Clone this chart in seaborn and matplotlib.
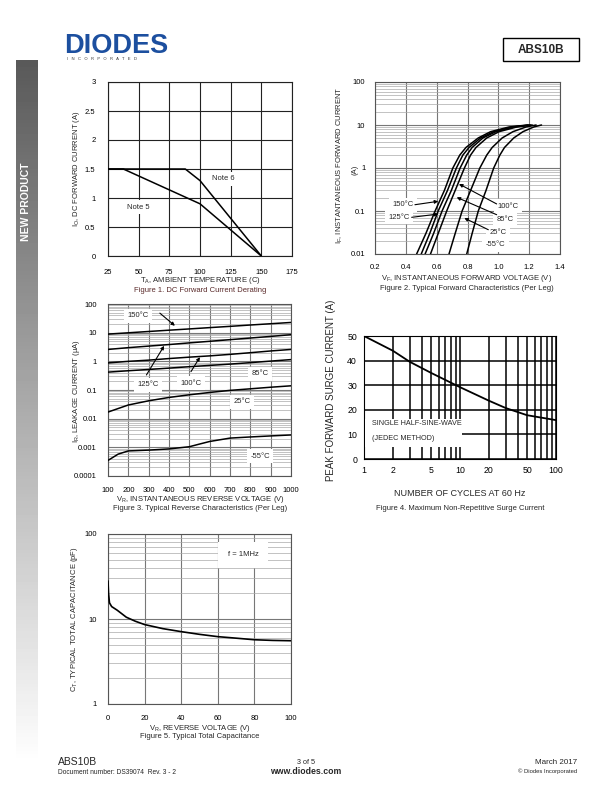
import numpy as np
import pandas as pd
import matplotlib
matplotlib.use("Agg")
import matplotlib.pyplot as plt
import matplotlib.ticker as mticker
from matplotlib.patches import Rectangle
import seaborn as sns

# Figure 1 : DC forward current derating
temp_note6 = [25, 88, 100, 150]
curr_note6 = [1.5, 1.5, 1.3, 0.0]
temp_note5 = [25, 37.5, 100, 150]
curr_note5 = [1.5, 1.5, 0.9, 0.0]

# Figure 2 : typical forward characteristics (V for each current)
if_points = [0.01, 0.03, 0.1, 0.3, 1, 2, 3, 5, 7, 9, 10]
vf_150 = [0.47, 0.53, 0.59, 0.65, 0.705, 0.75, 0.79, 0.87, 0.95, 1.07, 1.19]
vf_125 = [0.50, 0.555, 0.61, 0.67, 0.728, 0.77, 0.81, 0.885, 0.97, 1.09, 1.20]
vf_100 = [0.525, 0.58, 0.635, 0.695, 0.752, 0.795, 0.83, 0.90, 0.985, 1.10, 1.21]
vf_85 = [0.56, 0.61, 0.665, 0.72, 0.78, 0.82, 0.855, 0.925, 1.005, 1.12, 1.22]
vf_25 = [0.68, 0.72, 0.765, 0.82, 0.88, 0.925, 0.96, 1.025, 1.095, 1.18, 1.245]
vf_m55 = [0.795, 0.83, 0.87, 0.92, 0.97, 1.01, 1.04, 1.10, 1.16, 1.23, 1.28]

# Figure 3 : typical reverse characteristics
vr_points = [100, 200, 300, 400, 500, 600, 700, 800, 900, 1000]
ir_150 = [8.9, 9.9, 11.0, 12.2, 13.5, 15.0, 16.6, 18.5, 20.5, 22.7]
ir_125 = [2.6, 3.0, 3.4, 3.85, 4.4, 5.0, 5.7, 6.5, 7.4, 8.5]
ir_100 = [0.88, 1.0, 1.1, 1.25, 1.4, 1.55, 1.75, 2.0, 2.3, 2.6]
ir_85 = [0.42, 0.47, 0.52, 0.58, 0.65, 0.72, 0.8, 0.9, 1.02, 1.15]
ir_25 = [0.017, 0.03, 0.042, 0.055, 0.068, 0.082, 0.097, 0.11, 0.125, 0.14]
vr_m55 = [100, 150, 200, 300, 400, 500, 550, 600, 700, 800, 900, 1000]
ir_m55 = [0.00035, 0.00058, 0.00075, 0.0008, 0.00088, 0.00105, 0.0013, 0.0016,
          0.0021, 0.0023, 0.0025, 0.0027]

# Figure 4 : surge current
cycles = [1, 2, 3, 5, 10, 20, 30, 50, 100]
surge = [50, 44, 39.5, 35, 29.2, 23.7, 20.7, 17.8, 15.8]

# Figure 5 : total capacitance
vr_cap = [0, 0.3, 0.8, 2, 5, 10, 15, 20, 30, 40, 50, 60, 70, 80, 90, 100]
cap = [28, 20, 15.5, 14, 12.7, 10.5, 9.4, 8.6, 7.7, 7.1, 6.6, 6.2, 5.95, 5.7, 5.6, 5.55]

sns.set_theme(style="white")
plt.rcParams['font.family'] = ['Liberation Sans', 'DejaVu Sans']
plt.rcParams['mathtext.default'] = 'regular'

W, H = 612, 792
fig = plt.figure(figsize=(W / 100, H / 100), dpi=100)
FS = 5.5


def px_axes(x0, y0, x1, y1):
    return fig.add_axes([x0 / W, 1 - y1 / H, (x1 - x0) / W, (y1 - y0) / H])


def ftext(x, y, s, **kw):
    kw.setdefault('fontsize', FS)
    kw.setdefault('ha', 'center')
    kw.setdefault('va', 'center')
    fig.text(x / W, 1 - y / H, s, **kw)


def style_axes(ax, edge='#333333'):
    for sp in ax.spines.values():
        sp.set_color(edge)
        sp.set_linewidth(0.8)
    ax.tick_params(axis='both', which='both', length=0, labelsize=FS, pad=4, colors='black')
    ax.set_xlabel('')
    ax.set_ylabel('')


def box_label(ax, x, y, s, fs=FS, ha='center'):
    ax.text(x, y, s, fontsize=fs, ha=ha, va='center', zorder=4,
            bbox=dict(facecolor='white', edgecolor='none', pad=2.5))


def arrow(ax, tail, tip):
    ax.annotate('', xy=tip, xytext=tail, zorder=5,
                arrowprops=dict(arrowstyle='-|>', color='black', lw=0.8,
                                mutation_scale=5, shrinkA=0, shrinkB=0))


# ---------------- header / footer / sidebar ----------------
ftext(64, 46, 'DIODES', fontsize=19.5, fontweight='bold', color='#1c4f9f', ha='left')
ftext(67, 59.5, 'I   N   C   O   R   P   O   R   A   T   E   D', fontsize=3.0,
      color='#333333', ha='left')
fig.patches.append(Rectangle((503 / W, 1 - 61 / H), 76 / W, 23 / H, transform=fig.transFigure,
                             facecolor='white', edgecolor='black', lw=1.0))
ftext(541, 50, 'ABS10B', fontsize=8.5, fontweight='bold')

side = fig.add_axes([16 / W, 1 - 765 / H, 21 / W, 705 / H])
side.imshow(np.linspace(0.35, 1.0, 200).reshape(-1, 1), cmap='gray', vmin=0, vmax=1,
            aspect='auto', extent=[0, 1, 0, 1])
side.axis('off')
ftext(26.5, 202, 'NEW PRODUCT', fontsize=7.5, fontweight='bold', color='white', rotation=90)

ftext(58, 762, 'ABS10B', fontsize=7.5, ha='left')
ftext(58, 773, 'Document number: DS39074  Rev. 3 - 2', fontsize=4.8, ha='left')
ftext(306, 762, '3 of 5', fontsize=5.2)
ftext(306, 772, 'www.diodes.com', fontsize=6.3, fontweight='bold')
ftext(577, 762, 'March 2017', fontsize=5.8, ha='right')
ftext(577, 771, '\u00a9 Diodes Incorporated', fontsize=4.2, ha='right')

# ---------------- Figure 1 ----------------
ax1 = px_axes(108, 82, 292, 256)
df1a = pd.DataFrame({'T': temp_note6, 'I': curr_note6})
df1b = pd.DataFrame({'T': temp_note5, 'I': curr_note5})
sns.lineplot(data=df1a, x='T', y='I', ax=ax1, color='black', lw=1.1, estimator=None, zorder=3)
sns.lineplot(data=df1b, x='T', y='I', ax=ax1, color='black', lw=1.1, estimator=None, zorder=3)
ax1.set_xlim(25, 175)
ax1.set_ylim(0, 3)
ax1.set_xticks(range(25, 176, 25))
ax1.set_yticks([0, 0.5, 1, 1.5, 2, 2.5, 3])
ax1.set_yticklabels(['0', '0.5', '1', '1.5', '2', '2.5', '3'])
ax1.grid(True, color='#222222', lw=0.8)
style_axes(ax1, '#222222')
ax1.tick_params(pad=9)
box_label(ax1, 119, 1.33, 'Note 6')
box_label(ax1, 50, 0.84, 'Note 5')
ftext(77, 169, 'I$_O$, DC FORWARD CURRENT (A)', rotation=90)
ftext(200, 281, 'T$_A$, AMBIENT TEMPERATURE (C)')
ftext(200, 291, 'Figure 1. DC Forward Current Derating', color='#5a2a2a')

# ---------------- Figure 2 ----------------
ax2 = px_axes(375, 82, 560, 254)
for vf in [vf_150, vf_125, vf_100, vf_85, vf_25, vf_m55]:
    d = pd.DataFrame({'V': vf, 'I': if_points})
    sns.lineplot(data=d, x='V', y='I', ax=ax2, color='black', lw=1.1,
                 estimator=None, sort=False, zorder=3)
ax2.set_yscale('log')
ax2.set_xlim(0.2, 1.4)
ax2.set_ylim(0.01, 100)
ax2.set_xticks([0.2, 0.4, 0.6, 0.8, 1.0, 1.2, 1.4])
ax2.set_xticklabels(['0.2', '0.4', '0.6', '0.8', '1.0', '1.2', '1.4'])
ax2.set_yticks([0.01, 0.1, 1, 10, 100])
ax2.set_yticklabels(['0.01', '0.1', '1', '10', '100'])
ax2.yaxis.set_minor_locator(mticker.LogLocator(base=10, subs=range(2, 10)))
ax2.yaxis.set_minor_formatter(mticker.NullFormatter())
ax2.grid(True, which='major', color='#777777', lw=0.8)
ax2.grid(True, which='minor', axis='y', color='#aaaaaa', lw=0.5)
style_axes(ax2, '#555555')
ax2.tick_params(pad=7)
box_label(ax2, 0.38, 0.14, '150\u00b0C')
box_label(ax2, 0.355, 0.071, '125\u00b0C')
box_label(ax2, 1.065, 0.128, '100\u00b0C')
box_label(ax2, 1.045, 0.063, '85\u00b0C')
box_label(ax2, 1.0, 0.031, '25\u00b0C')
box_label(ax2, 0.98, 0.0164, '-55\u00b0C')
arrow(ax2, (0.459, 0.14), (0.61, 0.168))
arrow(ax2, (0.438, 0.0713), (0.61, 0.085))
arrow(ax2, (0.989, 0.146), (0.745, 0.425))
arrow(ax2, (0.989, 0.082), (0.73, 0.208))
arrow(ax2, (0.935, 0.0367), (0.779, 0.0687))
ftext(340, 165, 'I$_F$, INSTANTANEOUS FORWARD CURRENT', rotation=90)
ftext(355, 170, '(A)', rotation=90)
ftext(467, 278, 'V$_F$, INSTANTANEOUS FORWARD VOLTAGE (V)')
ftext(467, 288, 'Figure 2. Typical Forward Characteristics (Per Leg)')

# ---------------- Figure 3 ----------------
ax3 = px_axes(108, 304, 291, 476)
for ir in [ir_150, ir_125, ir_100, ir_85, ir_25]:
    d = pd.DataFrame({'V': vr_points, 'I': ir})
    sns.lineplot(data=d, x='V', y='I', ax=ax3, color='black', lw=1.1, estimator=None, zorder=3)
d = pd.DataFrame({'V': vr_m55, 'I': ir_m55})
sns.lineplot(data=d, x='V', y='I', ax=ax3, color='black', lw=1.1, estimator=None, zorder=3)
ax3.set_yscale('log')
ax3.set_xlim(100, 1000)
ax3.set_ylim(0.0001, 100)
ax3.set_xticks(range(100, 1001, 100))
ax3.set_yticks([0.0001, 0.001, 0.01, 0.1, 1, 10, 100])
ax3.set_yticklabels(['0.0001', '0.001', '0.01', '0.1', '1', '10', '100'])
ax3.yaxis.set_minor_locator(mticker.LogLocator(base=10, subs=range(2, 10)))
ax3.yaxis.set_minor_formatter(mticker.NullFormatter())
ax3.grid(True, which='major', color='#777777', lw=0.8)
ax3.grid(True, which='minor', axis='y', color='#aaaaaa', lw=0.5)
style_axes(ax3, '#555555')
ax3.tick_params(pad=8)
box_label(ax3, 248, 39, '150\u00b0C')
box_label(ax3, 297, 0.15, '125\u00b0C')
box_label(ax3, 508, 0.172, '100\u00b0C')
box_label(ax3, 848, 0.363, '85\u00b0C')
box_label(ax3, 758, 0.039, '25\u00b0C')
box_label(ax3, 848, 0.00049, '-55\u00b0C')
arrow(ax3, (355, 48), (429, 17.4))
arrow(ax3, (289, 0.335), (376, 3.47))
arrow(ax3, (508, 0.437), (552, 1.4))
ftext(77, 391, 'I$_R$, LEAKAGE CURRENT (\u00b5A)', rotation=90)
ftext(200, 500, 'V$_R$, INSTANTANEOUS REVERSE VOLTAGE (V)')
ftext(200, 509, 'Figure 3. Typical Reverse Characteristics (Per Leg)')

# ---------------- Figure 4 ----------------
ax4 = px_axes(364, 336, 556, 459)
d4 = pd.DataFrame({'N': cycles, 'I': surge})
sns.lineplot(data=d4, x='N', y='I', ax=ax4, color='black', lw=1.3, estimator=None, zorder=4)
ax4.set_xscale('log')
ax4.set_xlim(1, 100)
ax4.set_ylim(0, 50)
ax4.set_xticks([1, 2, 5, 10, 20, 50, 100])
ax4.set_xticklabels(['1', '2', '5', '10', '20', '50', '100'])
ax4.xaxis.set_minor_locator(mticker.LogLocator(base=10, subs=range(2, 10)))
ax4.xaxis.set_minor_formatter(mticker.NullFormatter())
ax4.set_yticks(range(0, 51, 10))
ax4.grid(True, which='both', color='black', lw=1.1)
style_axes(ax4, 'black')
ax4.tick_params(labelsize=6.3, pad=5)
ax4.add_patch(Rectangle((1.02, 5), 9.4, 11.3, facecolor='white', edgecolor='none', zorder=3))
ax4.text(1.2, 14.6, 'SINGLE HALF-SINE-WAVE', fontsize=5.2, va='center', zorder=4)
ax4.text(1.22, 8.5, '(JEDEC METHOD)', fontsize=5.2, va='center', zorder=4)
ftext(331, 390, 'PEAK FORWARD SURGE CURRENT (A)', fontsize=7, rotation=90)
ftext(460, 494, 'NUMBER OF CYCLES AT 60 Hz', fontsize=6.5)
ftext(460, 508, 'Figure 4. Maximum Non-Repetitive Surge Current')

# ---------------- Figure 5 ----------------
ax5 = px_axes(108, 534, 291, 704)
d5 = pd.DataFrame({'V': vr_cap, 'C': cap})
sns.lineplot(data=d5, x='V', y='C', ax=ax5, color='black', lw=1.2, estimator=None, zorder=3)
ax5.set_yscale('log')
ax5.set_xlim(0, 100)
ax5.set_ylim(1, 100)
ax5.set_xticks(range(0, 101, 20))
ax5.set_yticks([1, 10, 100])
ax5.set_yticklabels(['1', '10', '100'])
ax5.yaxis.set_minor_locator(mticker.LogLocator(base=10, subs=range(2, 10)))
ax5.yaxis.set_minor_formatter(mticker.NullFormatter())
ax5.grid(True, which='major', color='#777777', lw=0.8)
ax5.grid(True, which='minor', axis='y', color='#aaaaaa', lw=0.5)
style_axes(ax5, '#555555')
ax5.tick_params(pad=8)
ax5.text(74, 57, 'f = 1MHz', fontsize=FS, ha='center', va='center', zorder=4,
         bbox=dict(facecolor='white', edgecolor='none', pad=7))
ftext(75, 619, 'C$_T$, TYPICAL TOTAL CAPACITANCE (pF)', rotation=90)
ftext(200, 728, 'V$_R$, REVERSE VOLTAGE (V)')
ftext(200, 737, 'Figure 5. Typical Total Capacitance')

fig.savefig('out.png', dpi=100)
